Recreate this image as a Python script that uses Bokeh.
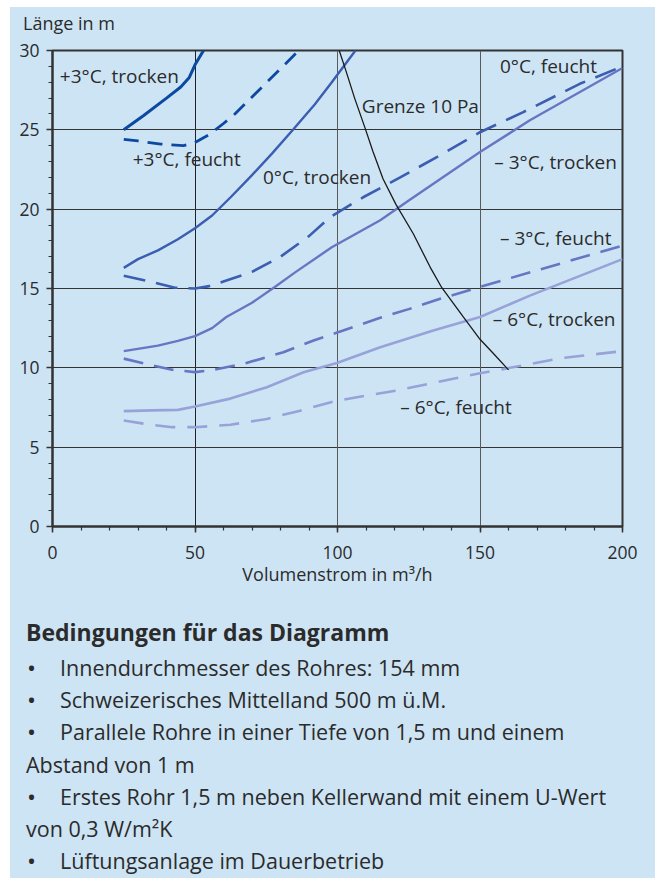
from bokeh.plotting import figure
from bokeh.models import Label, FixedTicker, Range1d, Grid, Div
from bokeh.layouts import column
from bokeh.embed import file_html
from bokeh.resources import INLINE

# ---------------- data ----------------
x_ticks = [0, 50, 100, 150, 200]
x_minor = list(range(0, 201, 10))
y_ticks = [0, 5, 10, 15, 20, 25, 30]
y_minor = list(range(0, 31, 1))

p3_tr_x = [25, 32, 40, 45, 48, 50, 53]
p3_tr_y = [25.0, 25.9, 27.0, 27.7, 28.3, 29.1, 30.0]

p3_fe_x = [25, 30, 38, 46, 50, 55, 60, 64, 87]
p3_fe_y = [24.4, 24.3, 24.1, 24.0, 24.2, 24.7, 25.4, 26.0, 30.1]

z_tr_x = [25, 30, 37, 44, 50, 56, 62.5, 69.5, 77, 84.6, 92, 98, 106.3]
z_tr_y = [16.3, 16.85, 17.4, 18.1, 18.8, 19.6, 20.75, 22.05, 23.5, 25.05, 26.6, 28.0, 30.0]

z_fe_x = [25, 35, 43, 50, 55, 61, 70, 80, 90, 97.4, 109, 122, 135, 150, 165, 185, 200]
z_fe_y = [15.8, 15.4, 15.05, 15.0, 15.15, 15.5, 16.05, 17.0, 18.3, 19.5, 20.75, 22.0, 23.3, 24.85, 26.1, 27.9, 29.0]

m3_tr_x = [25, 37, 44, 50, 56, 61, 70, 78, 85, 98, 115, 125, 150, 167.5, 200]
m3_tr_y = [11.05, 11.4, 11.7, 12.0, 12.5, 13.2, 14.1, 15.1, 16.0, 17.6, 19.3, 20.55, 23.6, 25.6, 28.9]

m3_fe_x = [25, 35, 42, 50, 56.5, 67, 81, 91.6, 102, 115, 125, 136, 150, 172, 200]
m3_fe_y = [10.58, 10.15, 9.88, 9.73, 9.88, 10.25, 10.98, 11.72, 12.35, 13.15, 13.7, 14.35, 15.1, 16.25, 17.7]

m6_tr_x = [25, 35, 44, 50, 62.4, 75.2, 88.1, 99.8, 115, 133.6, 150, 167.5, 200]
m6_tr_y = [7.27, 7.32, 7.35, 7.56, 8.06, 8.78, 9.72, 10.3, 11.3, 12.35, 13.2, 14.55, 16.85]

m6_fe_x = [25, 35, 42, 50, 62.4, 75.2, 86.9, 98, 106.8, 120.8, 150, 160.5, 179.2, 200]
m6_fe_y = [6.68, 6.4, 6.26, 6.26, 6.41, 6.78, 7.3, 7.85, 8.15, 8.57, 9.66, 10.0, 10.63, 11.05]

grenze_x = [100.6, 103, 106, 109.5, 112.5, 116, 120.5, 126.6, 132.5, 136.6, 144.2, 150, 154.7, 160]
grenze_y = [30.0, 28.7, 27.0, 25.2, 23.6, 21.9, 20.3, 18.45, 16.35, 15.05, 13.2, 11.8, 10.9, 9.87]

curve_labels = ["+3°C, trocken", "+3°C, feucht", "0°C, trocken", "Grenze 10 Pa",
                "0°C, feucht", "– 3°C, trocken", "– 3°C, feucht", "– 6°C, trocken",
                "– 6°C, feucht"]
label_x = [2.56, 28.15, 73.85, 108.55, 157.0, 155.0, 157.0, 154.5, 122.0]
label_y = [28.42, 23.17, 22.01, 26.53, 29.05, 22.96, 18.19, 13.09, 7.56]

x_title = "Volumenstrom in m³/h"
y_title = "Länge in m"

cond_title = "Bedingungen für das Diagramm"
cond_lines = ["Innendurchmesser des Rohres: 154 mm",
              "Schweizerisches Mittelland 500 m ü.M.",
              "Parallele Rohre in einer Tiefe von 1,5 m und einem",
              "Abstand von 1 m",
              "Erstes Rohr 1,5 m neben Kellerwand mit einem U-Wert",
              "von 0,3 W/m²K",
              "Lüftungsanlage im Dauerbetrieb"]
cond_bullet = [True, True, True, False, True, False, True]

# ---------------- style ----------------
BG = "#cde4f5"
FONT = "Open Sans"
TXT = "#2b2b2b"
C_P3 = "#0b4aa0"
C_0 = "#3b5eb1"
C_M3 = "#6676c2"
C_M6 = "#97a3d8"

# ---------------- y-title strip ----------------
H0 = 30
head = Div(text=(f'<div style="position:relative;width:645px;height:{H0}px;background:{BG};'
                 f'font-family:\'{FONT}\';font-size:18px;color:{TXT};white-space:nowrap;">'
                 f'<div style="position:absolute;left:13px;top:1px;line-height:30px;">{y_title}</div>'
                 f'</div>'),
           width=645, height=H0, margin=(0, 0, 0, 0))

# ---------------- chart ----------------
p = figure(width=645, height=563, x_range=Range1d(0, 200), y_range=Range1d(0, 30),
           output_backend="svg", toolbar_location=None,
           min_border_left=42, min_border_right=33, min_border_top=13, min_border_bottom=74,
           background_fill_color=BG, border_fill_color=BG)
p.outline_line_color = "#333333"
p.outline_line_width = 2

p.xaxis.ticker = FixedTicker(ticks=x_ticks, minor_ticks=x_minor)
p.yaxis.ticker = FixedTicker(ticks=y_ticks, minor_ticks=y_minor)
for ax in (p.xaxis, p.yaxis):
    ax.axis_line_width = 2
    ax.axis_line_color = "#333333"
    ax.major_tick_line_color = "#333333"
    ax.minor_tick_line_color = "#333333"
    ax.major_tick_line_width = 1.5
    ax.minor_tick_line_width = 1.2
    ax.major_tick_in = 0
    ax.minor_tick_in = 0
    ax.major_tick_out = 6
    ax.minor_tick_out = 4
    ax.major_label_text_font = FONT
    ax.major_label_text_font_size = "17.5px"
    ax.major_label_text_color = TXT
p.xaxis.major_label_standoff = 13
p.yaxis.major_label_standoff = 7
p.xaxis.axis_label = x_title
p.xaxis.axis_label_text_font = FONT
p.xaxis.axis_label_text_font_size = "18px"
p.xaxis.axis_label_text_font_style = "normal"
p.xaxis.axis_label_text_color = TXT
p.xaxis.axis_label_standoff = 0

p.xgrid.ticker = FixedTicker(ticks=[50])
p.xgrid.grid_line_color = "#222222"
p.xgrid.grid_line_width = 1
p.add_layout(Grid(dimension=0, ticker=FixedTicker(ticks=[100, 150]),
                  grid_line_color="#5a5a5a", grid_line_width=1))
p.ygrid.ticker = FixedTicker(ticks=[5, 10, 15, 20, 25])
p.ygrid.grid_line_color = "#333333"
p.ygrid.grid_line_width = 1

# curves
p.line(m6_fe_x, m6_fe_y, line_color=C_M6, line_width=2.6, line_dash="20 12")
p.line(m6_tr_x, m6_tr_y, line_color=C_M6, line_width=2.6)
p.line(m3_fe_x, m3_fe_y, line_color=C_M3, line_width=2.6, line_dash="20 11")
p.line(m3_tr_x, m3_tr_y, line_color=C_M3, line_width=2.4)
p.line(z_fe_x, z_fe_y, line_color=C_0, line_width=2.6, line_dash="22 11")
p.line(z_tr_x, z_tr_y, line_color=C_0, line_width=2.4)
p.line(p3_fe_x, p3_fe_y, line_color=C_P3, line_width=2.8, line_dash="15 9")
p.line(p3_tr_x, p3_tr_y, line_color=C_P3, line_width=3)
p.line(grenze_x, grenze_y, line_color="#1a1a1a", line_width=1.3)

for t, lx, ly in zip(curve_labels, label_x, label_y):
    p.add_layout(Label(x=lx, y=ly, text=t, text_font=FONT, text_font_size="19px",
                       text_color=TXT, text_baseline="middle", text_align="left"))

# ---------------- condition text panel ----------------
H2 = 278
line_step = 32.2
first_y = 68
parts = []
parts.append(
    f'<div style="position:absolute;left:16px;top:{32 - 15}px;line-height:30px;'
    f'font-weight:bold;font-size:23px;">{cond_title}</div>')
for i, (t, b) in enumerate(zip(cond_lines, cond_bullet)):
    top = first_y + i * line_step - 14
    if b:
        parts.append(f'<div style="position:absolute;left:17px;top:{top:.1f}px;'
                     f'line-height:28px;font-size:24px;">•</div>')
        left = 50
    else:
        left = 16
    parts.append(f'<div style="position:absolute;left:{left}px;top:{top:.1f}px;'
                 f'line-height:28px;">{t}</div>')
html = (f'<div style="position:relative;width:645px;height:{H2}px;background:{BG};'
        f'font-family:\'{FONT}\';font-size:21.5px;color:{TXT};white-space:nowrap;">'
        + "".join(parts) + '</div>')
div = Div(text=html, width=645, height=H2, margin=(0, 0, 0, 0))

layout = column(head, p, div, spacing=0, margin=(7, 0, 0, 10), styles={"background": BG})
open("out.html", "w").write(file_html(layout, INLINE))
